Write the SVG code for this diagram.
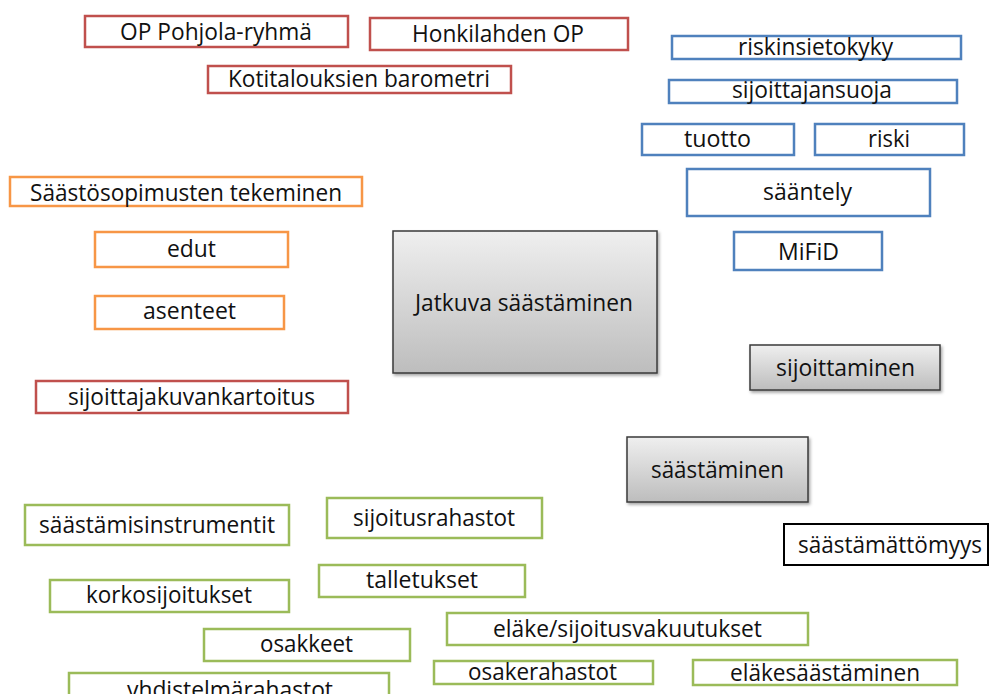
<svg xmlns="http://www.w3.org/2000/svg" width="993" height="694" viewBox="0 0 993 694">
<style>
  text { font-family: "Open Sans", "Noto Sans", "Liberation Sans", sans-serif; font-size: 23px; fill: #111; text-anchor: middle; }
  .red { fill: #fff; stroke: #C0504D; stroke-width: 2.5; }
  .org { fill: #fff; stroke: #F79646; stroke-width: 2.5; }
  .blu { fill: #fff; stroke: #4F81BD; stroke-width: 2.5; }
  .grn { fill: #fff; stroke: #9BBB59; stroke-width: 2.5; }
  .blk { fill: #fff; stroke: #000; stroke-width: 2; }
  .gry { fill: url(#gg); stroke: #3a3a3a; stroke-width: 1.5; filter: url(#sh); }
</style>
<defs>
  <linearGradient id="gg" x1="0" y1="0" x2="0" y2="1">
    <stop offset="0" stop-color="#EFEFEF"/>
    <stop offset="1" stop-color="#BDBDBD"/>
  </linearGradient>
  <filter id="sh" x="-10%" y="-10%" width="130%" height="130%">
    <feDropShadow dx="1.5" dy="2" stdDeviation="1.5" flood-color="#000" flood-opacity="0.35"/>
  </filter>
</defs>
<rect width="993" height="694" fill="#fff"/>
<g id="connectors"/>

<g id="op-pohjola"><rect class="red" x="85" y="16" width="263" height="31"/><text x="216" y="40" textLength="192" lengthAdjust="spacingAndGlyphs">OP Pohjola-ryhmä</text></g>
<g id="honkilahden-op"><rect class="red" x="370" y="18" width="258" height="32"/><text x="498" y="42" textLength="172" lengthAdjust="spacingAndGlyphs">Honkilahden OP</text></g>
<g id="kotitalouksien-barometri"><rect class="red" x="208" y="66" width="303" height="27"/><text x="359" y="87" textLength="262" lengthAdjust="spacingAndGlyphs">Kotitalouksien barometri</text></g>
<g id="saastosopimusten"><rect class="org" x="10" y="177" width="352" height="29"/><text x="186" y="201" textLength="312" lengthAdjust="spacingAndGlyphs">Säästösopimusten tekeminen</text></g>
<g id="edut"><rect class="org" x="95" y="232" width="193" height="35"/><text x="191.5" y="257" textLength="49" lengthAdjust="spacingAndGlyphs">edut</text></g>
<g id="asenteet"><rect class="org" x="95" y="296" width="189" height="33"/><text x="189.5" y="319" textLength="93" lengthAdjust="spacingAndGlyphs">asenteet</text></g>
<g id="sijoittajakuvankartoitus"><rect class="red" x="36" y="381" width="312" height="32"/><text x="191.5" y="405" textLength="247" lengthAdjust="spacingAndGlyphs">sijoittajakuvankartoitus</text></g>

<g id="riskinsietokyky"><rect class="blu" x="672" y="36" width="289" height="23"/><text x="815.5" y="55" textLength="155" lengthAdjust="spacingAndGlyphs">riskinsietokyky</text></g>
<g id="sijoittajansuoja"><rect class="blu" x="669" y="80" width="288" height="23"/><text x="812" y="98" textLength="160" lengthAdjust="spacingAndGlyphs">sijoittajansuoja</text></g>
<g id="tuotto"><rect class="blu" x="642" y="124" width="152" height="31"/><text x="717.5" y="147" textLength="67" lengthAdjust="spacingAndGlyphs">tuotto</text></g>
<g id="riski"><rect class="blu" x="815" y="124" width="149" height="31"/><text x="889" y="147" textLength="42" lengthAdjust="spacingAndGlyphs">riski</text></g>
<g id="saantely"><rect class="blu" x="687" y="169" width="243" height="47"/><text x="807.5" y="200" textLength="89" lengthAdjust="spacingAndGlyphs">sääntely</text></g>
<g id="mifid"><rect class="blu" x="734" y="232" width="148" height="38"/><text x="808.5" y="260" textLength="61" lengthAdjust="spacingAndGlyphs">MiFiD</text></g>

<g id="jatkuva-saastaminen"><rect class="gry" x="393" y="231" width="264" height="142"/><text x="524" y="311" textLength="218" lengthAdjust="spacingAndGlyphs">Jatkuva säästäminen</text></g>
<g id="sijoittaminen"><rect class="gry" x="750" y="345" width="190" height="45"/><text x="845.5" y="376" textLength="139" lengthAdjust="spacingAndGlyphs">sijoittaminen</text></g>
<g id="saastaminen"><rect class="gry" x="627" y="437" width="181" height="65"/><text x="717.5" y="478" textLength="133" lengthAdjust="spacingAndGlyphs">säästäminen</text></g>
<g id="saastamattomyys"><rect class="blk" x="784" y="524" width="204" height="41"/><text x="890" y="553" textLength="184" lengthAdjust="spacingAndGlyphs">säästämättömyys</text></g>

<g id="saastamisinstrumentit"><rect class="grn" x="25" y="505" width="264" height="40"/><text x="157" y="533" textLength="236" lengthAdjust="spacingAndGlyphs">säästämisinstrumentit</text></g>
<g id="sijoitusrahastot"><rect class="grn" x="327" y="498" width="215" height="40"/><text x="434" y="526" textLength="162" lengthAdjust="spacingAndGlyphs">sijoitusrahastot</text></g>
<g id="korkosijoitukset"><rect class="grn" x="50" y="580" width="239" height="32"/><text x="169" y="603" textLength="166" lengthAdjust="spacingAndGlyphs">korkosijoitukset</text></g>
<g id="talletukset"><rect class="grn" x="319" y="565" width="206" height="32"/><text x="422" y="588" textLength="112" lengthAdjust="spacingAndGlyphs">talletukset</text></g>
<g id="osakkeet"><rect class="grn" x="204" y="629" width="206" height="32"/><text x="306.5" y="652" textLength="93" lengthAdjust="spacingAndGlyphs">osakkeet</text></g>
<g id="elake-sijoitusvakuutukset"><rect class="grn" x="447" y="613" width="361" height="32"/><text x="627.5" y="637" textLength="269" lengthAdjust="spacingAndGlyphs">eläke/sijoitusvakuutukset</text></g>
<g id="osakerahastot"><rect class="grn" x="434" y="661" width="219" height="23"/><text x="542.5" y="680" textLength="149" lengthAdjust="spacingAndGlyphs">osakerahastot</text></g>
<g id="elakesaastaminen"><rect class="grn" x="693" y="660" width="264" height="25"/><text x="825" y="681" textLength="190" lengthAdjust="spacingAndGlyphs">eläkesäästäminen</text></g>
<g id="yhdistelmarahastot"><rect class="grn" x="69" y="673" width="320" height="40"/><text x="230" y="698" textLength="206" lengthAdjust="spacingAndGlyphs">yhdistelmärahastot</text></g>
</svg>
